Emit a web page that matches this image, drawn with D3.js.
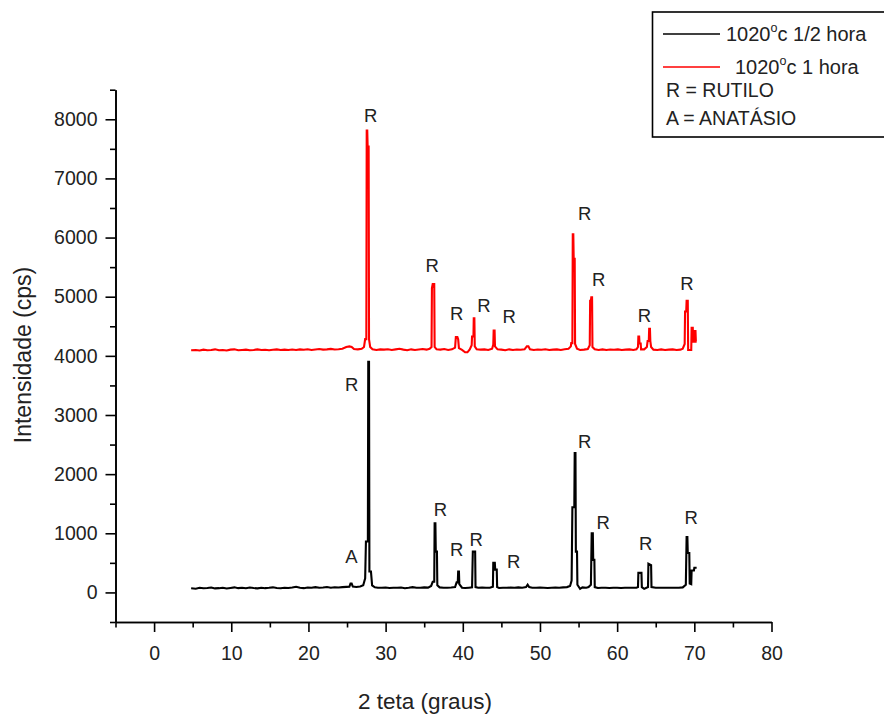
<!DOCTYPE html>
<html>
<head>
<meta charset="utf-8">
<script src="https://cdn.jsdelivr.net/npm/d3@7"></script>
<style>
  html, body { margin: 0; padding: 0; background: #fff; }
  svg { display: block; font-family: "Liberation Sans", Arial, sans-serif; }
</style>
</head>
<body>
<svg id="chart" width="884" height="715"></svg>
<script>
// ---- Data ----
const xMajorTicks = [0, 10, 20, 30, 40, 50, 60, 70, 80];
const xMinorTicks = [-5, 5, 15, 25, 35, 45, 55, 65, 75];
const yMajorTicks = [0, 1000, 2000, 3000, 4000, 5000, 6000, 7000, 8000];
const yMinorTicks = [-500, 500, 1500, 2500, 3500, 4500, 5500, 6500, 7500, 8500];

const seriesNames = ["1020", "1020"];
const seriesSuffix = ["c 1/2 hora", "c 1 hora"];

// 1020 °C, 1/2 hora  [2θ, intensidade]
const halfHour = [
 [4.8,70],[5.4,62],[5.9,78],[6.4,70],[6.9,74],[7.4,84],[7.9,68],[8.4,72],[8.9,80],[9.4,66],
 [9.9,76],[10.4,86],[10.9,72],[11.4,78],[11.9,70],[12.4,82],[12.9,74],[13.4,68],[13.9,80],[14.4,72],
 [14.9,78],[15.4,86],[15.9,74],[16.4,70],[16.9,80],[17.4,74],[17.9,82],[18.4,96],[18.9,78],[19.4,72],
 [19.9,84],[20.4,78],[20.9,90],[21.4,80],[21.9,84],[22.4,92],[22.9,80],[23.4,88],[23.9,84],[24.4,90],
 [24.9,94],[25.3,96],[25.45,150],[25.6,150],[25.75,98],[26.2,92],[26.7,100],[27.1,120],[27.35,240],
 [27.45,860],[27.7,860],[27.75,3900],[27.85,3900],[27.9,355],[28.1,355],[28.25,120],[28.6,86],
 [29.0,80],[29.5,78],[30.0,82],[30.5,75],[31.0,80],[31.5,78],[32.0,84],[32.5,72],[33.0,80],[33.5,90],
 [34.0,80],[34.5,78],[35.0,85],[35.5,82],[35.9,110],[36.1,180],[36.3,180],[36.35,1170],[36.45,1170],
 [36.5,690],[36.65,690],[36.7,120],[37.0,85],[37.5,80],[38.0,78],[38.5,82],[39.0,90],[39.2,170],
 [39.35,170],[39.4,355],[39.5,355],[39.55,140],[39.9,80],[40.3,75],[40.8,80],[41.2,85],[41.3,690],
 [41.6,690],[41.65,90],[42.0,80],[42.5,82],[43.0,78],[43.5,80],[43.9,95],[43.95,500],[44.15,500],
 [44.2,385],[44.4,385],[44.45,90],[44.7,75],[45.2,80],[45.7,78],[46.2,82],[46.7,80],[47.2,85],
 [47.7,80],[48.2,90],[48.4,130],[48.6,90],[49.0,80],[49.5,78],[50.0,82],[50.5,80],[51.0,75],
 [51.5,80],[52.0,82],[52.5,78],[53.0,85],[53.5,90],[53.9,110],[54.1,200],[54.2,1440],[54.45,1440],
 [54.5,2355],[54.6,2355],[54.65,690],[54.8,690],[54.85,130],[55.2,60],[55.5,85],[56.0,80],[56.3,90],
 [56.6,130],[56.7,1000],[56.85,1000],[56.9,550],[57.05,550],[57.1,90],[57.5,75],[58.0,78],[58.5,80],
 [59.0,75],[59.5,78],[60.0,80],[60.5,76],[61.0,78],[61.5,80],[62.0,78],[62.5,80],[62.7,90],
 [62.75,330],[63.15,330],[63.2,90],[63.5,60],[63.8,80],[64.0,90],[64.05,485],[64.4,460],[64.45,90],
 [65.0,78],[65.5,80],[66.0,78],[66.5,80],[67.0,78],[67.5,80],[68.0,78],[68.5,85],[68.9,130],
 [69.0,936],[69.1,936],[69.15,666],[69.35,666],[69.4,150],[69.6,140],[69.65,372],[69.95,372],
 [70.0,417],[70.3,417]
];

// 1020 °C, 1 hora  [2θ, intensidade]
const oneHour = [
 [4.8,4095],[5.4,4100],[5.9,4090],[6.4,4105],[6.9,4095],[7.4,4100],[7.9,4110],[8.4,4095],[8.9,4100],
 [9.4,4090],[9.9,4105],[10.4,4110],[10.9,4095],[11.4,4100],[11.9,4105],[12.4,4095],[12.9,4100],
 [13.4,4110],[13.9,4098],[14.4,4104],[14.9,4095],[15.4,4102],[15.9,4110],[16.4,4100],[16.9,4105],
 [17.4,4098],[17.9,4108],[18.4,4100],[18.9,4110],[19.4,4104],[19.9,4112],[20.4,4100],[20.9,4108],
 [21.4,4115],[21.9,4105],[22.4,4110],[22.9,4118],[23.4,4108],[23.9,4112],[24.4,4120],[24.9,4150],
 [25.3,4160],[25.6,4150],[25.9,4115],[26.4,4110],[26.9,4120],[27.2,4150],[27.35,4282],[27.5,4282],
 [27.55,7808],[27.62,7808],[27.67,7540],[27.8,7540],[27.85,4280],[28.0,4150],[28.3,4110],[28.8,4100],
 [29.3,4110],[29.8,4105],[30.3,4112],[30.8,4100],[31.3,4110],[31.8,4120],[32.3,4105],[32.8,4095],
 [33.3,4110],[33.8,4100],[34.3,4108],[34.8,4115],[35.3,4105],[35.7,4120],[35.95,4150],[36.0,5144],
 [36.1,5212],[36.3,5212],[36.35,4150],[36.6,4110],[37.1,4105],[37.6,4115],[38.1,4100],[38.6,4110],
 [39.0,4140],[39.1,4316],[39.3,4316],[39.4,4280],[39.5,4130],[39.9,4100],[40.3,4060],[40.6,4060],
 [40.9,4110],[41.15,4180],[41.2,4326],[41.38,4326],[41.42,4637],[41.5,4637],[41.55,4160],[41.8,4110],
 [42.3,4105],[42.8,4110],[43.3,4100],[43.8,4120],[43.95,4190],[44.0,4428],[44.12,4428],[44.17,4160],
 [44.5,4110],[45.0,4105],[45.5,4095],[46.0,4110],[46.5,4100],[47.0,4108],[47.5,4102],[48.0,4110],
 [48.3,4160],[48.5,4160],[48.7,4110],[49.2,4100],[49.7,4108],[50.2,4102],[50.7,4112],[51.2,4100],
 [51.7,4105],[52.2,4110],[52.7,4100],[53.2,4112],[53.7,4120],[54.0,4160],[54.05,4215],[54.2,4215],
 [54.25,6057],[54.32,6057],[54.37,5640],[54.5,5640],[54.55,4200],[54.8,4120],[55.2,4100],[55.7,4105],
 [56.2,4115],[56.45,4180],[56.5,4930],[56.6,4930],[56.65,4992],[56.75,4992],[56.8,4150],[57.1,4110],
 [57.6,4100],[58.1,4110],[58.6,4100],[59.1,4108],[59.6,4102],[60.1,4110],[60.6,4100],[61.1,4105],
 [61.6,4110],[62.1,4100],[62.5,4110],[62.7,4150],[62.75,4326],[62.85,4326],[62.9,4210],[63.05,4210],
 [63.1,4110],[63.5,4110],[63.85,4150],[63.95,4250],[64.1,4250],[64.15,4457],[64.25,4457],[64.3,4250],
 [64.4,4150],[64.7,4105],[65.2,4100],[65.7,4110],[66.2,4100],[66.7,4105],[67.2,4110],[67.7,4100],
 [68.2,4105],[68.5,4120],[68.75,4200],[68.8,4749],[68.95,4749],[69.0,4930],[69.15,4930],[69.2,4100],
 [69.6,4100],[69.65,4473],[69.8,4473],[69.85,4240],[70.0,4240],[70.05,4420],[70.15,4420],[70.2,4240],
 [70.3,4240]
];

// Phase annotations [2θ, intensidade, texto]
const labelsHalfHour = [
 [25.6, 3414, "R"], [25.57, 497, "A"], [37.1, 1284, "R"], [39.2, 608, "R"], [41.75, 777, "R"],
 [46.6, 412, "R"], [55.8, 2440, "R"], [58.2, 1071, "R"], [63.7, 710, "R"], [69.6, 1161, "R"]
];
const labelsOneHour = [
 [28.05, 7955, "R"], [36.05, 5420, "R"], [39.2, 4609, "R"], [42.75, 4749, "R"], [46.0, 4553, "R"],
 [55.8, 6299, "R"], [57.6, 5183, "R"], [63.55, 4580, "R"], [69.05, 5116, "R"]
];

const legendNotes = ["R = RUTILO", "A = ANATÁSIO"];
const xTitle = "2 teta (graus)";
const yTitle = "Intensidade (cps)";

// ---- Drawing ----
const svg = d3.select("#chart");
const x = d3.scaleLinear().domain([-5, 80]).range([115.5, 771.5]);
const y = d3.scaleLinear().domain([-500, 8500]).range([622, 89.7]);

const axisStroke = 1.6;

// Series
const line = d3.line().x(d => x(d[0])).y(d => y(d[1]));
svg.append("path").datum(halfHour).attr("d", line)
  .attr("fill", "none").attr("stroke", "#000").attr("stroke-width", 2.1).attr("stroke-linejoin", "miter");
svg.append("path").datum(oneHour).attr("d", line)
  .attr("fill", "none").attr("stroke", "#ff0000").attr("stroke-width", 2.1).attr("stroke-linejoin", "miter");

// Axes
function styleAxis(g) {
  g.selectAll(".domain").attr("stroke", "#000").attr("stroke-width", axisStroke);
  g.selectAll(".tick line").attr("stroke", "#000").attr("stroke-width", axisStroke);
  g.selectAll(".tick text").attr("fill", "#222").style("font-size", "19.5px")
    .style("font-family", '"Liberation Sans", Arial, sans-serif');
}

const gx = svg.append("g").attr("transform", `translate(0,${y(-500)})`)
  .call(d3.axisBottom(x).tickValues(xMajorTicks).tickSize(10).tickSizeOuter(0).tickPadding(14).tickFormat(d3.format("d")));
styleAxis(gx);
const gxm = svg.append("g").attr("transform", `translate(0,${y(-500)})`)
  .call(d3.axisBottom(x).tickValues(xMinorTicks).tickSize(5.5).tickSizeOuter(0).tickFormat(""));
styleAxis(gxm);

const gy = svg.append("g").attr("transform", `translate(${x(-5)},0)`)
  .call(d3.axisLeft(y).tickValues(yMajorTicks).tickSize(10).tickSizeOuter(0).tickPadding(8).tickFormat(d3.format("d")));
styleAxis(gy);
const gym = svg.append("g").attr("transform", `translate(${x(-5)},0)`)
  .call(d3.axisLeft(y).tickValues(yMinorTicks).tickSize(5.5).tickSizeOuter(0).tickFormat(""));
styleAxis(gym);

// Axis titles
svg.append("text").attr("x", 425).attr("y", 709).attr("text-anchor", "middle")
  .attr("fill", "#222").style("font-size", "22.5px").text(xTitle);
svg.append("text").attr("transform", "translate(31,355) rotate(-90)").attr("text-anchor", "middle")
  .attr("fill", "#222").style("font-size", "23px").text(yTitle);

// Peak labels
function addLabels(data) {
  svg.append("g").selectAll("text").data(data).join("text")
    .attr("x", d => x(d[0])).attr("y", d => y(d[1]))
    .attr("text-anchor", "middle").attr("fill", "#222").style("font-size", "18.5px")
    .text(d => d[2]);
}
addLabels(labelsHalfHour);
addLabels(labelsOneHour);

// Legend
const lg = svg.append("g");
lg.append("rect").attr("x", 652.5).attr("y", 12).attr("width", 240).attr("height", 125)
  .attr("fill", "#fff").attr("stroke", "#000").attr("stroke-width", 1.6);
const legendColors = ["#000", "#ff0000"];
const legendRows = [{ly: 34, tx: 726, ty: 41}, {ly: 67, tx: 735, ty: 74}];
legendRows.forEach((r, i) => {
  lg.append("line").attr("x1", 663).attr("x2", 720).attr("y1", r.ly).attr("y2", r.ly)
    .attr("stroke", legendColors[i]).attr("stroke-width", 1.6);
  const t = lg.append("text").attr("x", r.tx).attr("y", r.ty).attr("fill", "#222").style("font-size", "20px");
  t.append("tspan").text(seriesNames[i]);
  t.append("tspan").attr("dy", -9).style("font-size", "12.5px").text("o");
  t.append("tspan").attr("dy", 9).text(seriesSuffix[i]);
});
legendNotes.forEach((s, i) => {
  lg.append("text").attr("x", 666).attr("y", 97 + i * 28).attr("fill", "#222")
    .style("font-size", "19.5px").text(s);
});
</script>
</body>
</html>
